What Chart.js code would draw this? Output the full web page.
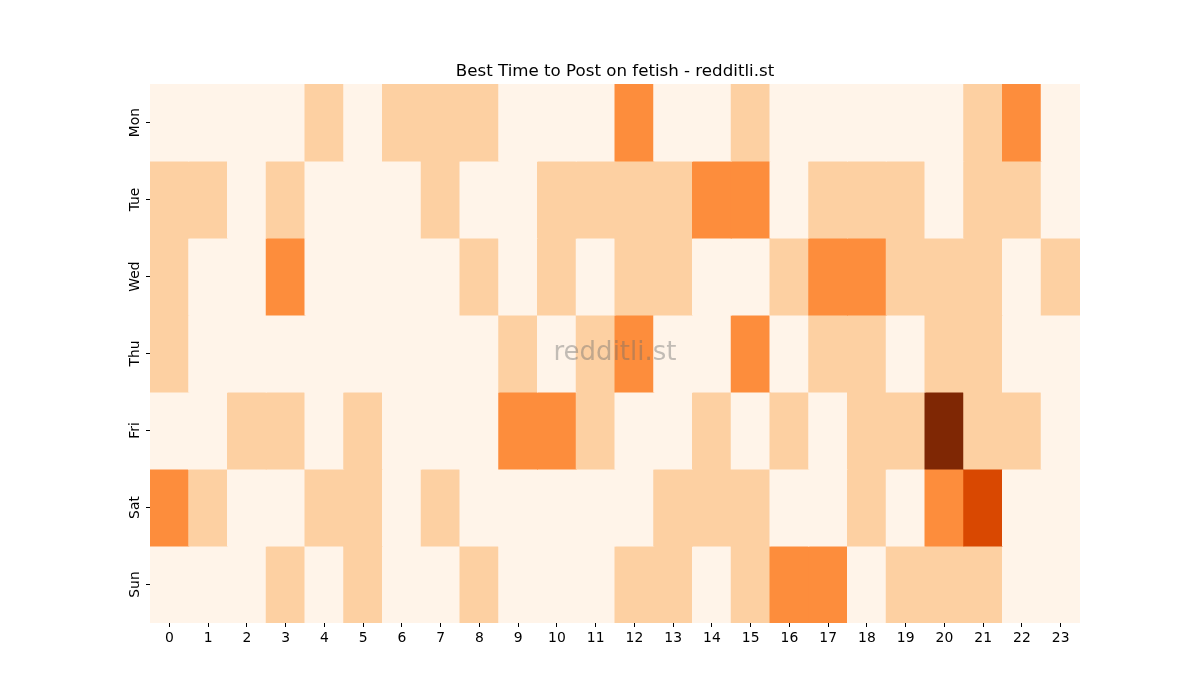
<!DOCTYPE html>
<html>
<head>
<meta charset="utf-8">
<title>Best Time to Post on fetish - redditli.st</title>
<script src="https://cdn.jsdelivr.net/npm/chart.js@4/dist/chart.umd.min.js"></script>
<style>
  html, body { margin: 0; padding: 0; background: #fff; }
  #wrap { width: 1200px; height: 700px; }
</style>
</head>
<body>
<div id="wrap"><canvas id="heat"></canvas></div>
<script>
// ===== DATA =====
const hours = ['0', '1', '2', '3', '4', '5', '6', '7', '8', '9', '10', '11',
               '12', '13', '14', '15', '16', '17', '18', '19', '20', '21', '22', '23'];
const days = ['Mon', 'Tue', 'Wed', 'Thu', 'Fri', 'Sat', 'Sun'];
const titleText = 'Best Time to Post on fetish - redditli.st';

// activity level per hour (0 = quiet .. 4 = busiest)
const mon = [0, 0, 0, 0, 1, 0, 1, 1, 1, 0, 0, 0, 2, 0, 0, 1, 0, 0, 0, 0, 0, 1, 2, 0];
const tue = [1, 1, 0, 1, 0, 0, 0, 1, 0, 0, 1, 1, 1, 1, 2, 2, 0, 1, 1, 1, 0, 1, 1, 0];
const wed = [1, 0, 0, 2, 0, 0, 0, 0, 1, 0, 1, 0, 1, 1, 0, 0, 1, 2, 2, 1, 1, 1, 0, 1];
const thu = [1, 0, 0, 0, 0, 0, 0, 0, 0, 1, 0, 1, 2, 0, 0, 2, 0, 1, 1, 0, 1, 1, 0, 0];
const fri = [0, 0, 1, 1, 0, 1, 0, 0, 0, 2, 2, 1, 0, 0, 1, 0, 1, 0, 1, 1, 4, 1, 1, 0];
const sat = [2, 1, 0, 0, 1, 1, 0, 1, 0, 0, 0, 0, 0, 1, 1, 1, 0, 0, 1, 0, 2, 3, 0, 0];
const sun = [0, 0, 0, 1, 0, 1, 0, 0, 1, 0, 0, 0, 1, 1, 0, 1, 2, 2, 0, 1, 1, 1, 0, 0];
const rows = [mon, tue, wed, thu, fri, sat, sun];

// Oranges colormap steps
const palette = ['#fff4e9', '#fdd0a2', '#fd8d3c', '#d94801', '#7f2704'];

const FONT = '"DejaVu Sans"';

// ===== PLUGINS =====
// vertical day labels on the y axis (Chart.js won't rotate y tick labels)
const dayLabels = {
    id: 'dayLabels',
    afterDraw(chart) {
        const { ctx, scales: { y } } = chart;
        ctx.save();
        ctx.fillStyle = '#000';
        ctx.font = `13.9px ${FONT}`;
        ctx.textAlign = 'center';
        ctx.textBaseline = 'alphabetic';
        days.forEach((d, i) => {
            const py = y.getPixelForValue(i + 0.5);
            ctx.save();
            ctx.translate(y.right - 11.5, py);
            ctx.rotate(-Math.PI / 2);
            ctx.fillText(d, 0, 0);
            ctx.restore();
        });
        ctx.restore();
    }
};

// title centred over the plot area, plus the watermark
const overlay = {
    id: 'overlay',
    afterDatasetsDraw(chart) {
        const { ctx, chartArea: a } = chart;
        const cx = (a.left + a.right) / 2;
        ctx.save();
        ctx.textAlign = 'center';
        ctx.fillStyle = 'rgba(110, 110, 110, 0.42)';
        ctx.font = `26px ${FONT}`;
        ctx.textBaseline = 'middle';
        ctx.fillText('redditli.st', cx, (a.top + a.bottom) / 2);
        ctx.fillStyle = '#000';
        ctx.font = `16.67px ${FONT}`;
        ctx.textBaseline = 'alphabetic';
        ctx.fillText(titleText, cx, a.top - 8);
        ctx.restore();
    }
};

// ===== CHART =====
const datasets = rows.map((r, i) => ({
    label: days[i],
    data: r.map(() => 1),
    backgroundColor: r.map(v => palette[v]),
    borderWidth: 0,
    borderSkipped: false,
    inflateAmount: 0.5,
    barPercentage: 1,
    categoryPercentage: 1
}));

new Chart(document.getElementById('heat'), {
    type: 'bar',
    data: { labels: hours, datasets },
    options: {
        responsive: true,
        maintainAspectRatio: false,
        animation: false,
        layout: { padding: { left: 100, right: 120, top: 84, bottom: 47 } },
        plugins: {
            legend: { display: false },
            tooltip: { enabled: false },
            title: { display: false }
        },
        scales: {
            x: {
                stacked: true,
                border: { display: false },
                grid: { display: true, drawOnChartArea: false, drawTicks: true, offset: false, tickLength: 4, color: '#000' },
                ticks: { color: '#000', font: { family: 'DejaVu Sans', size: 13.9 }, padding: 3, maxRotation: 0, autoSkip: false },
                afterFit(scale) { scale.height = 30; }
            },
            y: {
                stacked: true,
                reverse: true,
                min: 0,
                max: 7,
                border: { display: false },
                grid: { display: true, drawOnChartArea: false, drawTicks: true, tickLength: 4, color: '#000' },
                ticks: { callback: () => '' },
                afterBuildTicks(scale) { scale.ticks = days.map((_, i) => ({ value: i + 0.5 })); },
                afterFit(scale) { scale.width = 50; }
            }
        }
    },
    plugins: [dayLabels, overlay]
});
</script>
</body>
</html>
